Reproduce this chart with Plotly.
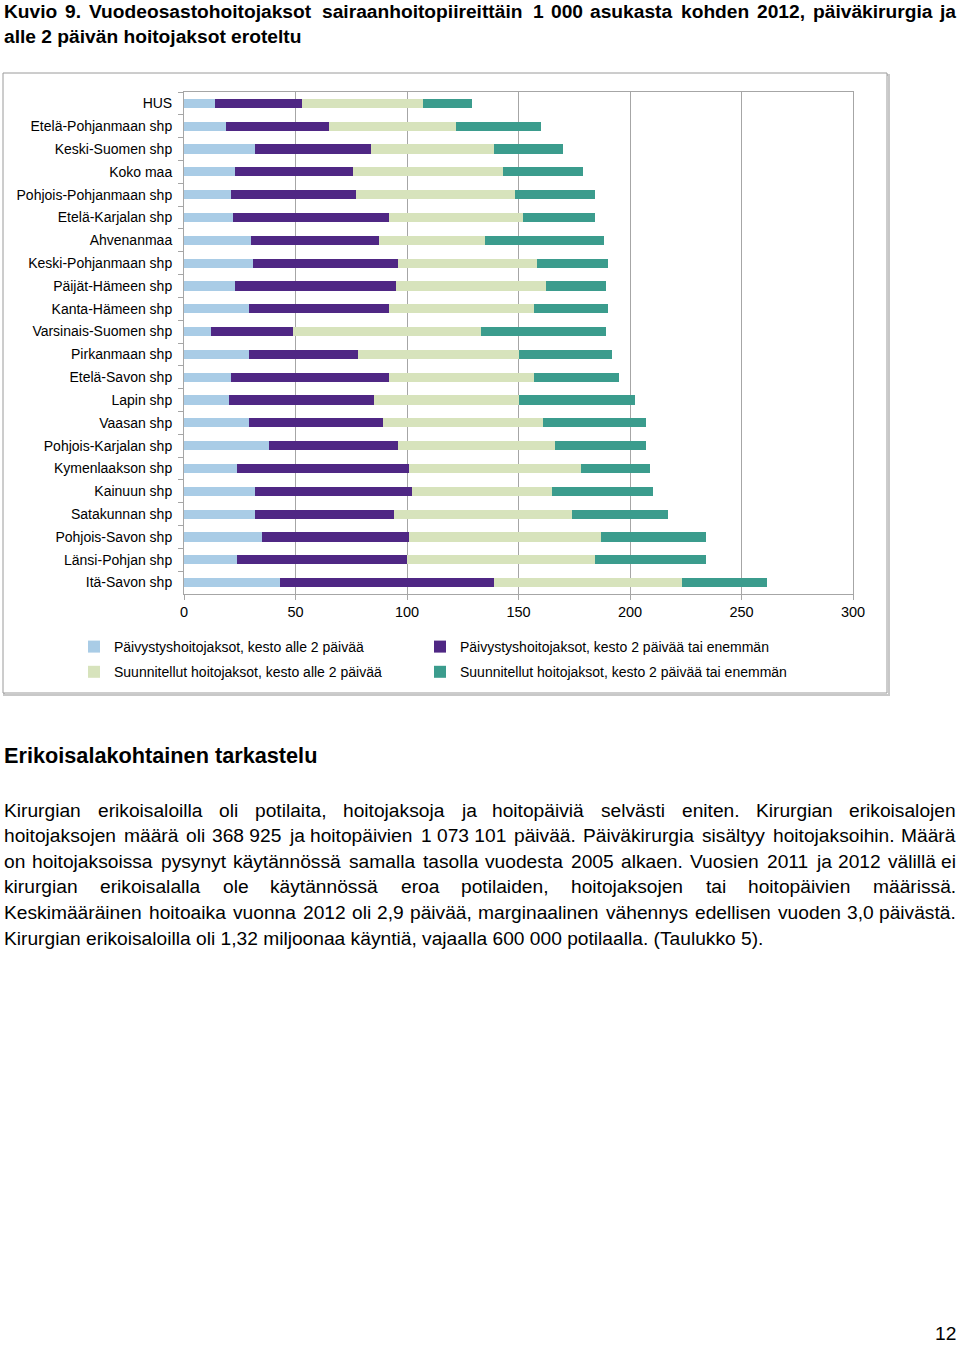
import plotly.graph_objects as go

W, H = 960, 1345

regions = ["HUS", "Etelä-Pohjanmaan shp", "Keski-Suomen shp", "Koko maa",
           "Pohjois-Pohjanmaan shp", "Etelä-Karjalan shp", "Ahvenanmaa",
           "Keski-Pohjanmaan shp", "Päijät-Hämeen shp", "Kanta-Hämeen shp",
           "Varsinais-Suomen shp", "Pirkanmaan shp", "Etelä-Savon shp", "Lapin shp",
           "Vaasan shp", "Pohjois-Karjalan shp", "Kymenlaakson shp", "Kainuun shp",
           "Satakunnan shp", "Pohjois-Savon shp", "Länsi-Pohjan shp", "Itä-Savon shp"]

paiv_alle2 = [13.9, 19.0, 32.0, 23.0, 20.9, 22.0, 30.0, 31.1, 23.0, 29.0, 12.0,
              29.0, 20.9, 20.0, 29.0, 38.1, 23.9, 32.0, 32.0, 35.0, 23.9, 43.0]
paiv_yli2 = [39.1, 46.0, 52.0, 52.9, 56.2, 69.9, 57.3, 65.0, 72.2, 63.1, 36.9,
             49.0, 71.2, 65.1, 60.1, 58.0, 77.1, 70.1, 62.0, 66.0, 76.1, 96.2]
suun_alle2 = [54.0, 57.1, 55.2, 67.3, 71.2, 60.3, 47.8, 62.1, 67.0, 65.0, 84.1,
              72.2, 65.0, 65.1, 72.0, 70.1, 77.2, 63.1, 80.1, 86.1, 84.2, 84.1]
suun_yli2 = [22.0, 38.0, 30.9, 35.9, 35.9, 32.0, 53.1, 31.9, 26.9, 33.0, 56.1,
             41.9, 38.0, 51.9, 46.1, 41.0, 30.9, 45.0, 43.1, 47.0, 49.9, 38.0]

series_names = ["Päivystyshoitojaksot, kesto alle 2 päivää",
                "Päivystyshoitojaksot, kesto 2 päivää tai enemmän",
                "Suunnitellut hoitojaksot, kesto alle 2 päivää",
                "Suunnitellut hoitojaksot, kesto 2 päivää tai enemmän"]
series_values = [paiv_alle2, paiv_yli2, suun_alle2, suun_yli2]
series_legend = ["legend", "legend2", "legend", "legend2"]
colors = ["#a9cce6", "#4f2784", "#d7e3bc", "#3b9c8d"]

x_ticks = [0, 50, 100, 150, 200, 250, 300]

title_line1 = "Kuvio 9. Vuodeosastohoitojaksot sairaanhoitopiireittäin 1 000 asukasta kohden 2012, päiväkirurgia ja"
title_line2 = "alle 2 päivän hoitojaksot eroteltu"
heading = "Erikoisalakohtainen tarkastelu"
body_lines = [
    "Kirurgian erikoisaloilla oli potilaita, hoitojaksoja ja hoitopäiviä selvästi eniten. Kirurgian erikoisalojen",
    "hoitojaksojen määrä oli 368\u00a0925 ja hoitopäivien 1\u00a0073\u00a0101 päivää. Päiväkirurgia sisältyy hoitojaksoihin. Määrä",
    "on hoitojaksoissa pysynyt käytännössä samalla tasolla vuodesta 2005 alkaen. Vuosien 2011 ja 2012 välillä ei",
    "kirurgian erikoisalalla ole käytännössä eroa potilaiden, hoitojaksojen tai hoitopäivien määrissä.",
    "Keskimääräinen hoitoaika vuonna 2012 oli 2,9 päivää, marginaalinen vähennys edellisen vuoden 3,0 päivästä.",
    "Kirurgian erikoisaloilla oli 1,32 miljoonaa käyntiä, vajaalla 600\u00a0000 potilaalla. (Taulukko 5).",
]
page_number = "12"

FONT = "Liberation Sans, Arial, sans-serif"
TEXT_SIZE = 19.2
HEAD_SIZE = 21.7
WFACT = 1.015

# Arial / Helvetica advance widths (1/1000 em)
REG = dict(zip("abcdefghijklmnopqrstuvwxyzäöå",
               [556, 556, 500, 556, 556, 278, 556, 556, 222, 222, 500, 222, 833, 556, 556, 556,
                556, 333, 500, 278, 556, 500, 722, 500, 500, 500, 556, 556, 556]))
REG.update(dict(zip("ABCDEFGHIJKLMNOPQRSTUVWXYZ",
                    [667, 667, 722, 722, 667, 611, 778, 722, 278, 500, 667, 556, 833, 722, 778, 667,
                     778, 722, 667, 611, 722, 667, 944, 667, 667, 611])))
BOLD = dict(zip("abcdefghijklmnopqrstuvwxyzäöå",
                [556, 611, 556, 611, 556, 333, 611, 611, 278, 278, 556, 278, 889, 611, 611, 611,
                 611, 389, 556, 333, 611, 556, 778, 556, 556, 500, 556, 611, 556]))
BOLD.update(dict(zip("ABCDEFGHIJKLMNOPQRSTUVWXYZ",
                     [722, 722, 722, 722, 667, 611, 778, 722, 278, 556, 722, 611, 833, 722, 778, 667,
                      778, 722, 667, 611, 722, 667, 944, 667, 667, 611])))
for d in (REG, BOLD):
    for ch in "0123456789":
        d[ch] = 556
    d.update({" ": 278, "\u00a0": 278, ".": 278, ",": 278, "(": 333, ")": 333, "-": 333, ":": 278})


def tw(s, size, bold=False):
    t = BOLD if bold else REG
    return sum(t.get(c, 556) for c in s) * size / 1000.0 * WFACT


def xp(px):
    return px / W


def yp(py):
    return 1 - py / H


annotations = []


def ann(text, x, y, size, bold, anchor="left", yanchor="middle"):
    annotations.append(dict(
        text=("<b>%s</b>" % text) if bold else text, x=xp(x), y=yp(y),
        xref="paper", yref="paper", xanchor=anchor, yanchor=yanchor,
        showarrow=False, borderpad=0, font=dict(family=FONT, size=size, color="#000000")))


def add_text_line(text, y, size, bold=False, justify=False, x0=3, x1=957):
    if justify:
        words = text.split(" ")
        total = sum(tw(w, size, bold) for w in words)
        gap = (x1 - x0 - total) / (len(words) - 1)
        x = x0
        for i, w in enumerate(words):
            if i == len(words) - 1:
                ann(w, x1, y, size, bold, anchor="right")
            else:
                ann(w, x, y, size, bold)
            x += tw(w, size, bold) + gap
    else:
        ann(text, x0, y, size, bold)


add_text_line(title_line1, 11, TEXT_SIZE, bold=True, justify=True)
add_text_line(title_line2, 36, TEXT_SIZE, bold=True)
add_text_line(heading, 755, HEAD_SIZE, bold=True)
for i, line in enumerate(body_lines):
    add_text_line(line, 810 + i * 25.6, TEXT_SIZE, justify=(i < len(body_lines) - 1))
ann(page_number, 957, 1345, TEXT_SIZE, False, anchor="right", yanchor="bottom")

fig = go.Figure()
for name, vals, col, lg in zip(series_names, series_values, colors, series_legend):
    fig.add_trace(go.Bar(y=regions, x=vals, name=name, orientation="h", legend=lg,
                         legendgroup=name,
                         marker=dict(color=col, line=dict(width=0))))

grid_col = "#a6a6a6"
legend_common = dict(orientation="v", xanchor="left", yanchor="top", y=yp(631),
                     font=dict(size=14, family=FONT, color="#000000"),
                     bgcolor="rgba(0,0,0,0)", traceorder="grouped", tracegroupgap=4)
fig.update_layout(
    width=W, height=H,
    margin=dict(l=0, r=0, t=0, b=0, autoexpand=False),
    paper_bgcolor="white", plot_bgcolor="white",
    barmode="stack", bargap=0.6,
    font=dict(family=FONT, size=14, color="#000000"),
    xaxis=dict(domain=[xp(184), xp(853)], range=[0, 300], tickvals=x_ticks,
               showgrid=True, gridcolor=grid_col, gridwidth=1, zeroline=False,
               showline=True, linecolor=grid_col, linewidth=1, mirror=True,
               ticks="outside", ticklen=5, tickcolor=grid_col, automargin=False,
               tickfont=dict(size=14.5, family=FONT, color="#000000"), fixedrange=True),
    yaxis=dict(domain=[yp(594), yp(92)], autorange="reversed", type="category",
               showgrid=False, zeroline=False, automargin=False,
               showline=True, linecolor=grid_col, linewidth=1, mirror=True,
               ticks="outside", ticklen=5, tickcolor=grid_col, tickson="boundaries",
               ticklabelstandoff=8,
               tickfont=dict(size=14, family=FONT, color="#000000"), fixedrange=True),
    legend=dict(x=xp(74), **legend_common),
    legend2=dict(x=xp(420), **legend_common),
    annotations=annotations,
    shapes=[
        dict(type="rect", xref="paper", yref="paper", x0=xp(4), x1=xp(889), y0=yp(695), y1=yp(75),
             line=dict(color="#c8c8c8", width=2), layer="below"),
        dict(type="rect", xref="paper", yref="paper", x0=xp(3), x1=xp(887), y0=yp(693), y1=yp(73),
             line=dict(color="#9a9a9a", width=1), fillcolor="white", layer="below"),
    ],
)

fig.write_html("out.html", config={"displayModeBar": False},
               post_script="document.body.style.margin='0';document.body.style.overflow='hidden';"
                           "document.documentElement.style.overflow='hidden';")
